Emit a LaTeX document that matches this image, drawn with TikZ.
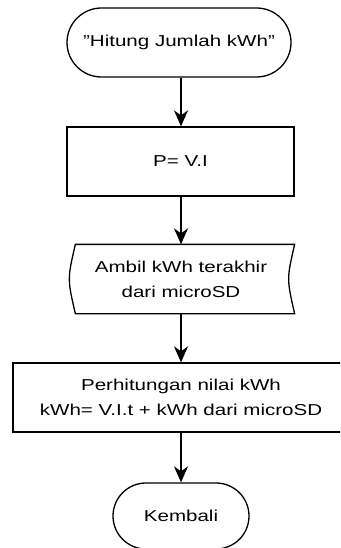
\documentclass[tikz,border=0pt]{standalone}
\usepackage{fontspec}
\setmainfont[FakeStretch=1.3]{Liberation Sans}
\usetikzlibrary{shapes.misc,arrows.meta,calc}
\begin{document}
\begin{tikzpicture}[x=1pt,y=-1pt,
  every node/.style={font=\fontsize{15.8}{25}\selectfont, align=center, line width=1.3pt, inner sep=0pt},
  term/.style={draw, rounded rectangle},
  proc/.style={draw, rectangle},
  flow/.style={line width=1.5pt, -{Stealth[length=16pt,width=14pt,inset=5pt]}}]
\useasboundingbox (0,0) rectangle (340,548);
\begin{scope}
\clip (0,0) rectangle (340,548);
\node[term, minimum width=224pt, minimum height=69pt] (start) at (179,42.5) {\char34 Hitung Jumlah kWh\char34};
\node[proc, minimum width=227pt, minimum height=69pt] (p) at (180.5,161.5) {P= V.I};
\node[minimum width=218pt, minimum height=68pt] (s) at (181,279) {Ambil kWh terakhir\\dari microSD};
\draw[line width=1.3pt] ($(s.north west)+(4,0)$) -- ($(s.north east)+(4,0)$)
   .. controls ($(s.east)+(-4,0)$) .. ($(s.south east)+(4,0)$)
   -- ($(s.south west)+(4,0)$)
   .. controls ($(s.west)+(-4,0)$) .. ($(s.north west)+(4,0)$) -- cycle;
\node[proc, minimum width=336pt, minimum height=69pt] (calc) at (181,397.5) {Perhitungan nilai kWh\\kWh= V.I.t + kWh dari microSD};
\node[term, minimum width=136pt, minimum height=66pt] (end) at (181,516) {Kembali};
\end{scope}
\draw[flow] (start.south -| 181,0) -- (p.north -| 181,0);
\draw[flow] (p.south -| 181,0) -- (s.north);
\draw[flow] (s.south) -- (calc.north);
\draw[flow] (calc.south) -- (end.north);
\end{tikzpicture}
\end{document}
